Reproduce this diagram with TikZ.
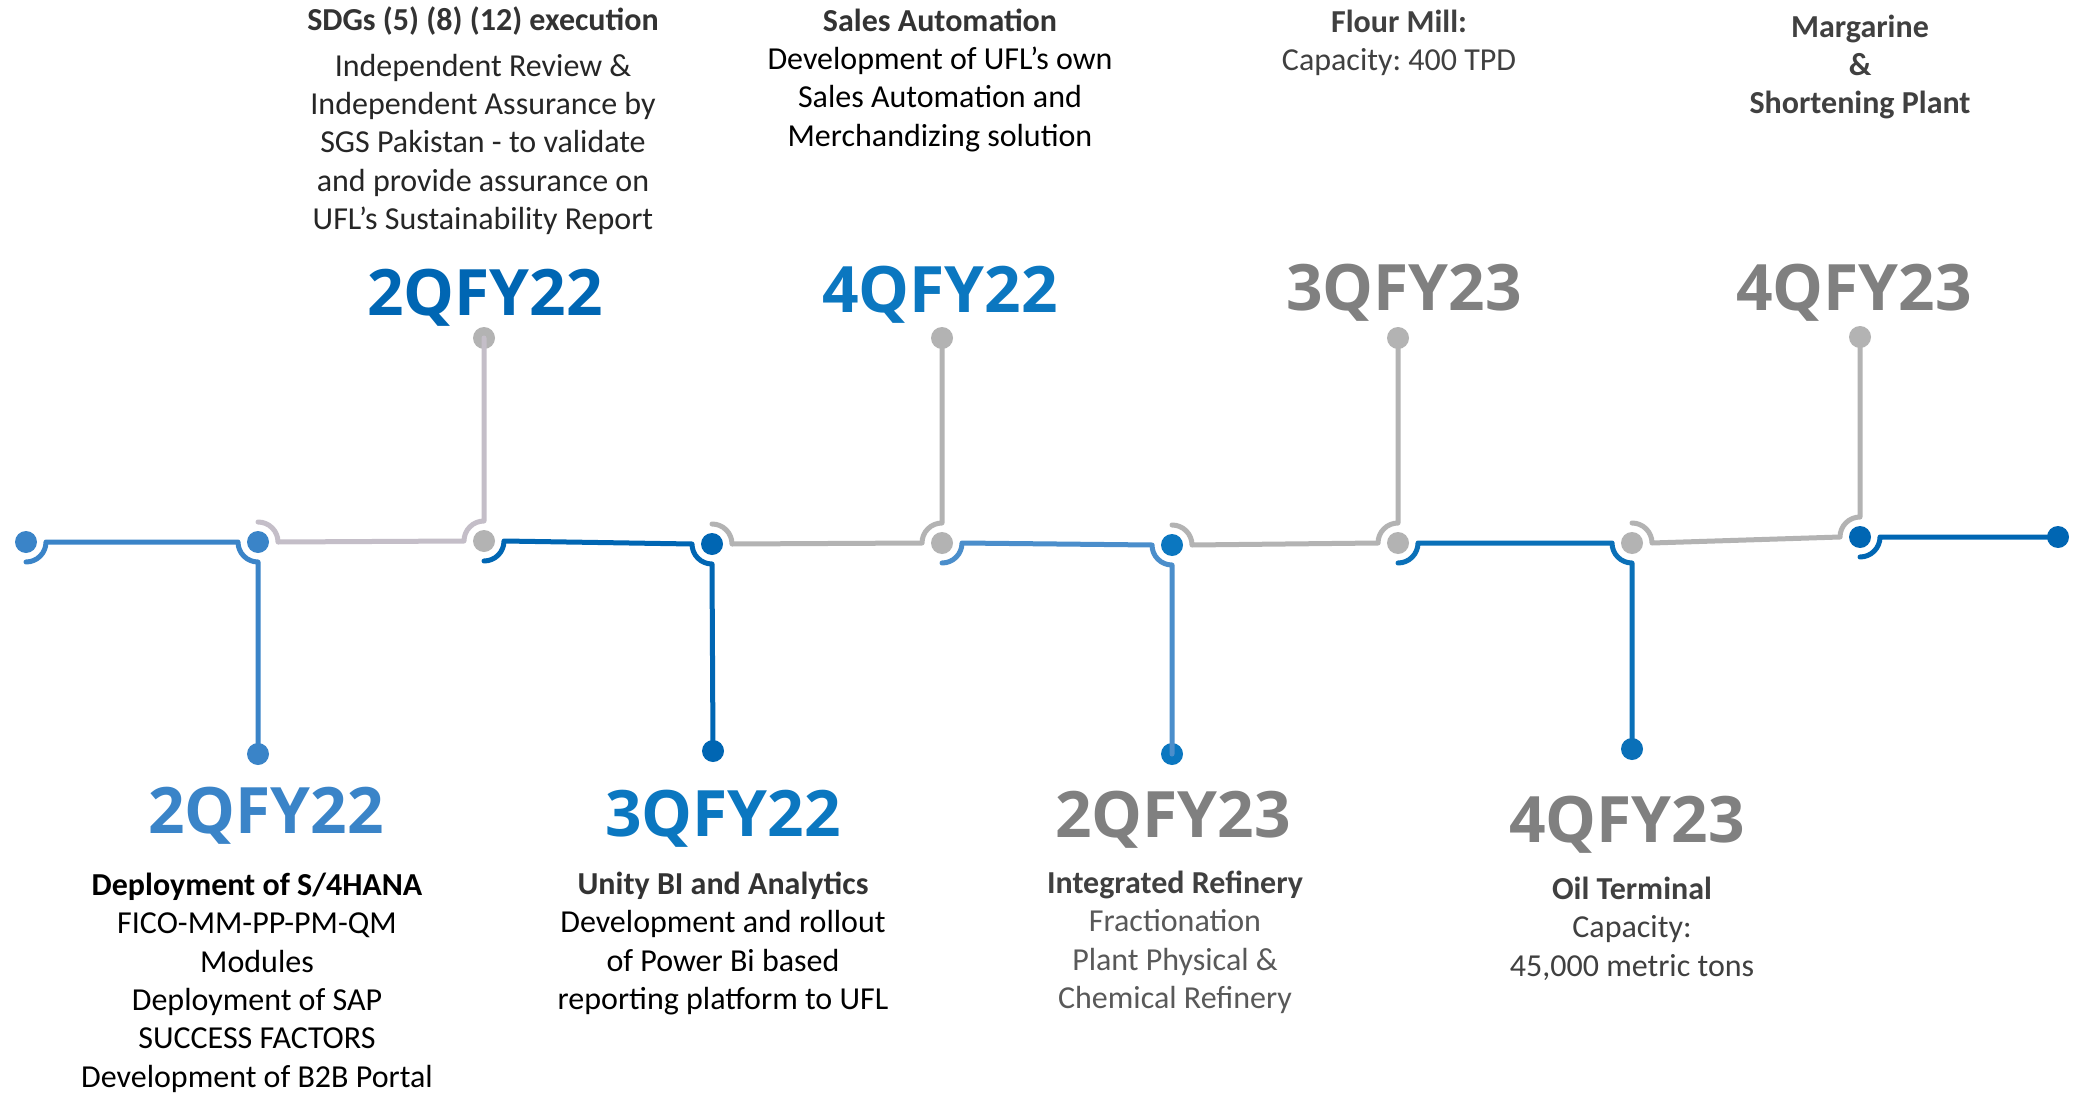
\documentclass[tikz,border=0pt]{standalone}
\usepackage{fontspec}
\setmainfont{Carlito}
\newfontfamily\yearfont{Open Sans}
\usetikzlibrary{calc}
\frenchspacing
\definecolor{cMid}{HTML}{3A84C8}
\definecolor{cLav}{HTML}{C4BEC8}
\definecolor{cGry}{HTML}{B3B3B3}
\definecolor{cDeep}{HTML}{0066B3}
\definecolor{cSky}{HTML}{4B8ECB}
\definecolor{cVivid}{HTML}{0B77C0}
\definecolor{cOcean}{HTML}{0A70B8}
\definecolor{cYearGray}{HTML}{808080}
\definecolor{cInk}{HTML}{333333}
\definecolor{cSoft}{HTML}{404040}
\definecolor{cMute}{HTML}{595959}
\newcommand{\firstline}{\rule{0pt}{25pt}}
\tikzset{
  dotnode/.style={circle, inner sep=0pt, minimum size=22pt, draw=none},
  track/.style={line width=5pt, line cap=round, line join=round},
  yearlabel/.style={anchor=base, inner sep=0pt,
                    font=\yearfont\bfseries\fontsize{64}{64}\selectfont},
  blurb/.style={anchor=north, inner sep=0pt, align=center,
                font=\fontsize{32}{38.4}\selectfont},
  headline/.style={anchor=base, inner sep=0pt,
                   font=\bfseries\fontsize{32}{38.4}\selectfont}
}

\begin{document}
\begin{tikzpicture}[x=1pt, y=-1pt]

  \fill[white] (0,0) rectangle (2074,1094);
  \path[use as bounding box] (0,0) rectangle (2074,1094);

  % ── Stops on the timeline ──
  \node[dotnode, fill=cMid]   (d0) at (26,542)   {};
  \node[dotnode, fill=cMid]   (d1) at (258,542)  {};
  \node[dotnode, fill=cGry]   (d2) at (484,541)  {};
  \node[dotnode, fill=cDeep]  (d3) at (712,544)  {};
  \node[dotnode, fill=cGry]   (d4) at (942,543)  {};
  \node[dotnode, fill=cVivid] (d5) at (1172,545) {};
  \node[dotnode, fill=cGry]   (d6) at (1398,543) {};
  \node[dotnode, fill=cGry]   (d7) at (1632,543) {};
  \node[dotnode, fill=cDeep]  (d8) at (1860,537) {};
  \node[dotnode, fill=cDeep]  (d9) at (2058,537) {};

  % ── Branch ends ──
  \node[dotnode, fill=cMid]   (b1) at (258,754)  {};
  \node[dotnode, fill=cDeep]  (b3) at (713,751)  {};
  \node[dotnode, fill=cVivid] (b5) at (1172,754) {};
  \node[dotnode, fill=cOcean] (b7) at (1632,749) {};
  \node[dotnode, fill=cGry]   (t2) at (484,338)  {};
  \node[dotnode, fill=cGry]   (t4) at (942,338)  {};
  \node[dotnode, fill=cGry]   (t6) at (1398,338) {};
  \node[dotnode, fill=cGry]   (t8) at (1860,337) {};

  % ── Track pieces ──
  \draw[track, cMid] ($(d0)+(0,20)$) arc[start angle=270, end angle=360, radius=20pt]
      -- ($(d1)+(-20,0)$) arc[start angle=180, end angle=270, radius=20pt] -- (b1.center);
  \draw[track, cLav] ($(d1)+(0,-20)$) arc[start angle=90, end angle=0, radius=20pt]
      -- ($(d2)+(-20,0)$) arc[start angle=180, end angle=90, radius=20pt] -- (t2.center);
  \draw[track, cDeep] ($(d2)+(0,20)$) arc[start angle=270, end angle=360, radius=20pt]
      -- ($(d3)+(-20,0)$) arc[start angle=180, end angle=270, radius=20pt] -- (b3.center);
  \draw[track, cGry] ($(d3)+(0,-20)$) arc[start angle=90, end angle=0, radius=20pt]
      -- ($(d4)+(-20,0)$) arc[start angle=180, end angle=90, radius=20pt] -- (t4.center);
  \draw[track, cSky] ($(d4)+(0,20)$) arc[start angle=270, end angle=360, radius=20pt]
      -- ($(d5)+(-20,0)$) arc[start angle=180, end angle=270, radius=20pt] -- (b5.center);
  \draw[track, cGry] ($(d5)+(0,-20)$) arc[start angle=90, end angle=0, radius=20pt]
      -- ($(d6)+(-20,0)$) arc[start angle=180, end angle=90, radius=20pt] -- (t6.center);
  \draw[track, cOcean] ($(d6)+(0,20)$) arc[start angle=270, end angle=360, radius=20pt]
      -- ($(d7)+(-20,0)$) arc[start angle=180, end angle=270, radius=20pt] -- (b7.center);
  \draw[track, cGry] ($(d7)+(0,-20)$) arc[start angle=90, end angle=0, radius=20pt]
      -- ($(d8)+(-20,0)$) arc[start angle=180, end angle=90, radius=20pt] -- (t8.center);
  \draw[track, cDeep] ($(d8)+(0,20)$) arc[start angle=270, end angle=360, radius=20pt]
      -- (d9.center);

  % ── Upper milestones ──
  \node[headline, text=cInk] (sdg) at (483,31) {SDGs (5) (8) (12) execution};
  \node[blurb, text=black!85] (sdgtxt) at (483,51)
      {\firstline Independent Review \&\\Independent Assurance by\\
       SGS Pakistan - to validate\\and provide assurance on\\UFL’s Sustainability Report};
  \node[yearlabel, text=cDeep] (yTopA) at (485,315) {2QFY22};

  \node[blurb] (sales) at (940,6)
      {\firstline\textbf{\color{cInk}Sales Automation}\\Development of UFL’s own\\
       Sales Automation and\\Merchandizing solution};
  \node[yearlabel, text=cVivid] (yTopB) at (940,312) {4QFY22};

  \node[blurb, text=cSoft] (flour) at (1399,7)
      {\firstline\textbf{Flour Mill:}\\Capacity: 400 TPD};
  \node[yearlabel, text=cYearGray] (yTopC) at (1404,310) {3QFY23};

  \node[blurb, text=cSoft, font=\bfseries\fontsize{32}{38.4}\selectfont] (marg) at (1860,12)
      {\firstline Margarine\\\&\\Shortening Plant};
  \node[yearlabel, text=cYearGray] (yTopD) at (1854,310) {4QFY23};

  % ── Lower milestones ──
  \node[yearlabel, text=cMid] (yLowA) at (266,833) {2QFY22};
  \node[blurb] (hana) at (257,870)
      {\firstline\textbf{Deployment of S/4HANA}\\FICO-MM-PP-PM-QM\\Modules\\
       Deployment of SAP\\SUCCESS FACTORS\\Development of B2B Portal};

  \node[yearlabel, text=cVivid] (yLowB) at (723,836) {3QFY22};
  \node[blurb] (unity) at (723,869)
      {\firstline\textbf{\color{cInk}Unity BI and Analytics}\\Development and rollout\\
       of Power Bi based\\reporting platform to UFL};

  \node[yearlabel, text=cYearGray] (yLowC) at (1173,837) {2QFY23};
  \node[blurb, text=cMute] (refinery) at (1175,868)
      {\firstline\textbf{\color{cSoft}Integrated Refinery}\\Fractionation\\
       Plant Physical \&\\Chemical Refinery};

  \node[yearlabel, text=cYearGray] (yLowD) at (1627,842) {4QFY23};
  \node[blurb, text=cSoft] (terminal) at (1632,874)
      {\firstline\textbf{Oil Terminal}\\Capacity:\\45,000 metric tons};

\end{tikzpicture}
\end{document}
